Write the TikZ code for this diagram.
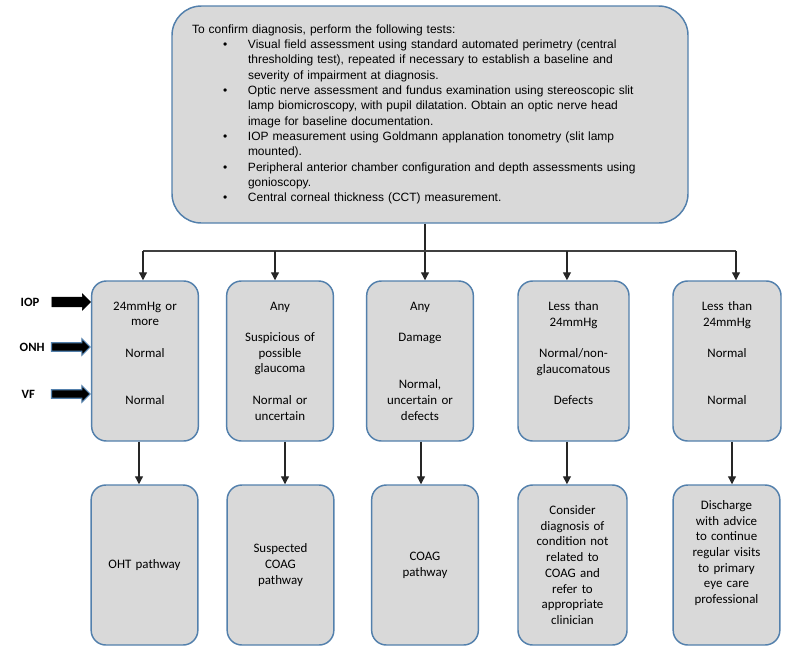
\documentclass[tikz,border=0pt]{standalone}
\usepackage{fontspec}
\setmainfont{Carlito}
\newfontfamily\arialfont{Liberation Sans}
\usetikzlibrary{arrows.meta,shapes.arrows}
\definecolor{panelfill}{HTML}{D9D9D9}
\definecolor{panelline}{HTML}{5380AC}
\newcommand{\testitem}{\par\hangindent=42pt\hangafter=1\noindent\hspace*{23.25pt}\makebox[18.75pt][l]{\textbullet}}
\frenchspacing

\begin{document}
\begin{tikzpicture}[x=0.75pt,y=-0.75pt,
  panel/.style={draw=panelline,fill=panelfill,line width=1.1pt,rounded corners=11pt,minimum width=80pt,minimum height=120pt,text width=72pt,align=center,font=\fontsize{9.7pt}{11.8pt}\selectfont},
  link/.style={line width=0.9pt,draw=black!85,-{Triangle[width=6pt,length=6pt]}},
  sidelabel/.style={anchor=west,font=\bfseries\fontsize{9.5pt}{11pt}\selectfont},
  blockarrow/.style={single arrow,anchor=tip,inner xsep=0pt,inner ysep=3.4pt,single arrow head extend=2.6pt,minimum height=29pt,fill=black}]
\useasboundingbox (0,0) rectangle (800,664);
\node (tests) at (430,114.5) [draw=panelline,fill=panelfill,line width=1.1pt,rounded corners=22pt,minimum height=162.75pt,text width=357pt,inner xsep=15pt,font=\arialfont\fontsize{9pt}{11.5pt}\selectfont]
  {\raggedright To confirm diagnosis, perform the following tests:
  \testitem Visual field assessment using standard automated perimetry (central\newline thresholding test), repeated if necessary to establish a baseline and\newline severity of impairment at diagnosis.
  \testitem Optic nerve assessment and fundus examination using stereoscopic slit\newline lamp biomicroscopy, with pupil dilatation. Obtain an optic nerve head\newline image for baseline documentation.
  \testitem IOP measurement using Goldmann applanation tonometry (slit lamp\newline mounted).
  \testitem Peripheral anterior chamber configuration and depth assessments using\newline gonioscopy.
  \testitem Central corneal thickness (CCT) measurement.\par};

\node (ohtcrit) at (145,361) [panel] {24mmHg or\\more\\~\\Normal\\~\\~\\Normal\\~};
\node (suspcrit) at (280,361) [panel] {Any\\~\\Suspicious of\\possible\\glaucoma\\~\\Normal or\\uncertain};
\node (coagcrit) at (420,361) [panel] {Any\\~\\Damage\\~\\~\\Normal,\\uncertain or\\defects};
\node (othercrit) at (573.5,361) [panel,minimum width=83.25pt] {Less than\\24mmHg\\~\\Normal/non-\\glaucomatous\\~\\Defects\\~};
\node (dischargecrit) at (727,361) [panel,minimum width=81pt] {Less than\\24mmHg\\~\\Normal\\~\\~\\Normal\\~};

\node (oht) at (144.5,565) [panel] {OHT pathway};
\node (suspcoag) at (280.5,565) [panel] {Suspected\\COAG\\pathway};
\node (coag) at (425,565) [panel] {COAG\\pathway};
\node (other) at (572.5,565) [panel,minimum width=81.75pt] {Consider\\diagnosis of\\condition not\\related to\\COAG and\\refer to\\appropriate\\clinician};
\node (discharge) at (726.5,565) [panel] {Discharge\\with advice\\to continue\\regular visits\\to primary\\eye care\\professional\\[7.7pt]~};

\node (iop) at (16,302) [sidelabel] {IOP};
\node (onh) at (15,347) [sidelabel] {ONH};
\node (vf) at (17,394) [sidelabel] {VF};
\node (iopin) at (iop -| ohtcrit.west) [blockarrow,draw=black] {};
\node (onhin) at (onh -| ohtcrit.west) [blockarrow,draw=panelline,line width=0.8pt,inner ysep=2.8pt,single arrow head extend=3pt] {};
\node (vfin) at (vf -| ohtcrit.west) [blockarrow,draw=panelline,line width=0.8pt,inner ysep=2.8pt,single arrow head extend=3pt] {};

\coordinate (bus) at (0,251);
\draw[link] ([xshift=-3.75pt]tests.south) -- ([xshift=-3.75pt]tests.south |- coagcrit.north);
\draw[line width=0.9pt,draw=black!75] ([xshift=-1.5pt]ohtcrit.north |- bus) -- ([xshift=6.75pt]dischargecrit.north |- bus);
\draw[link] ([xshift=-1.5pt]ohtcrit.north |- bus) -- ([xshift=-1.5pt]ohtcrit.north);
\draw[link] ([xshift=-3.75pt]suspcrit.north |- bus) -- ([xshift=-3.75pt]suspcrit.north);
\draw[link] ([xshift=-4.9pt]othercrit.north |- bus) -- ([xshift=-4.9pt]othercrit.north);
\draw[link] ([xshift=6.75pt]dischargecrit.north |- bus) -- ([xshift=6.75pt]dischargecrit.north);

\draw[link] ([xshift=-4.5pt]ohtcrit.south) -- ([xshift=-4.5pt]ohtcrit.south |- oht.north);
\draw[link] ([xshift=3.75pt]suspcrit.south) -- ([xshift=3.75pt]suspcrit.south |- suspcoag.north);
\draw[link] ([xshift=0.75pt]coagcrit.south) -- ([xshift=0.75pt]coagcrit.south |- coag.north);
\draw[link] ([xshift=-4.9pt]othercrit.south) -- ([xshift=-4.9pt]othercrit.south |- other.north);
\draw[link] ([xshift=3.75pt]dischargecrit.south) -- ([xshift=3.75pt]dischargecrit.south |- discharge.north);
\end{tikzpicture}
\end{document}
